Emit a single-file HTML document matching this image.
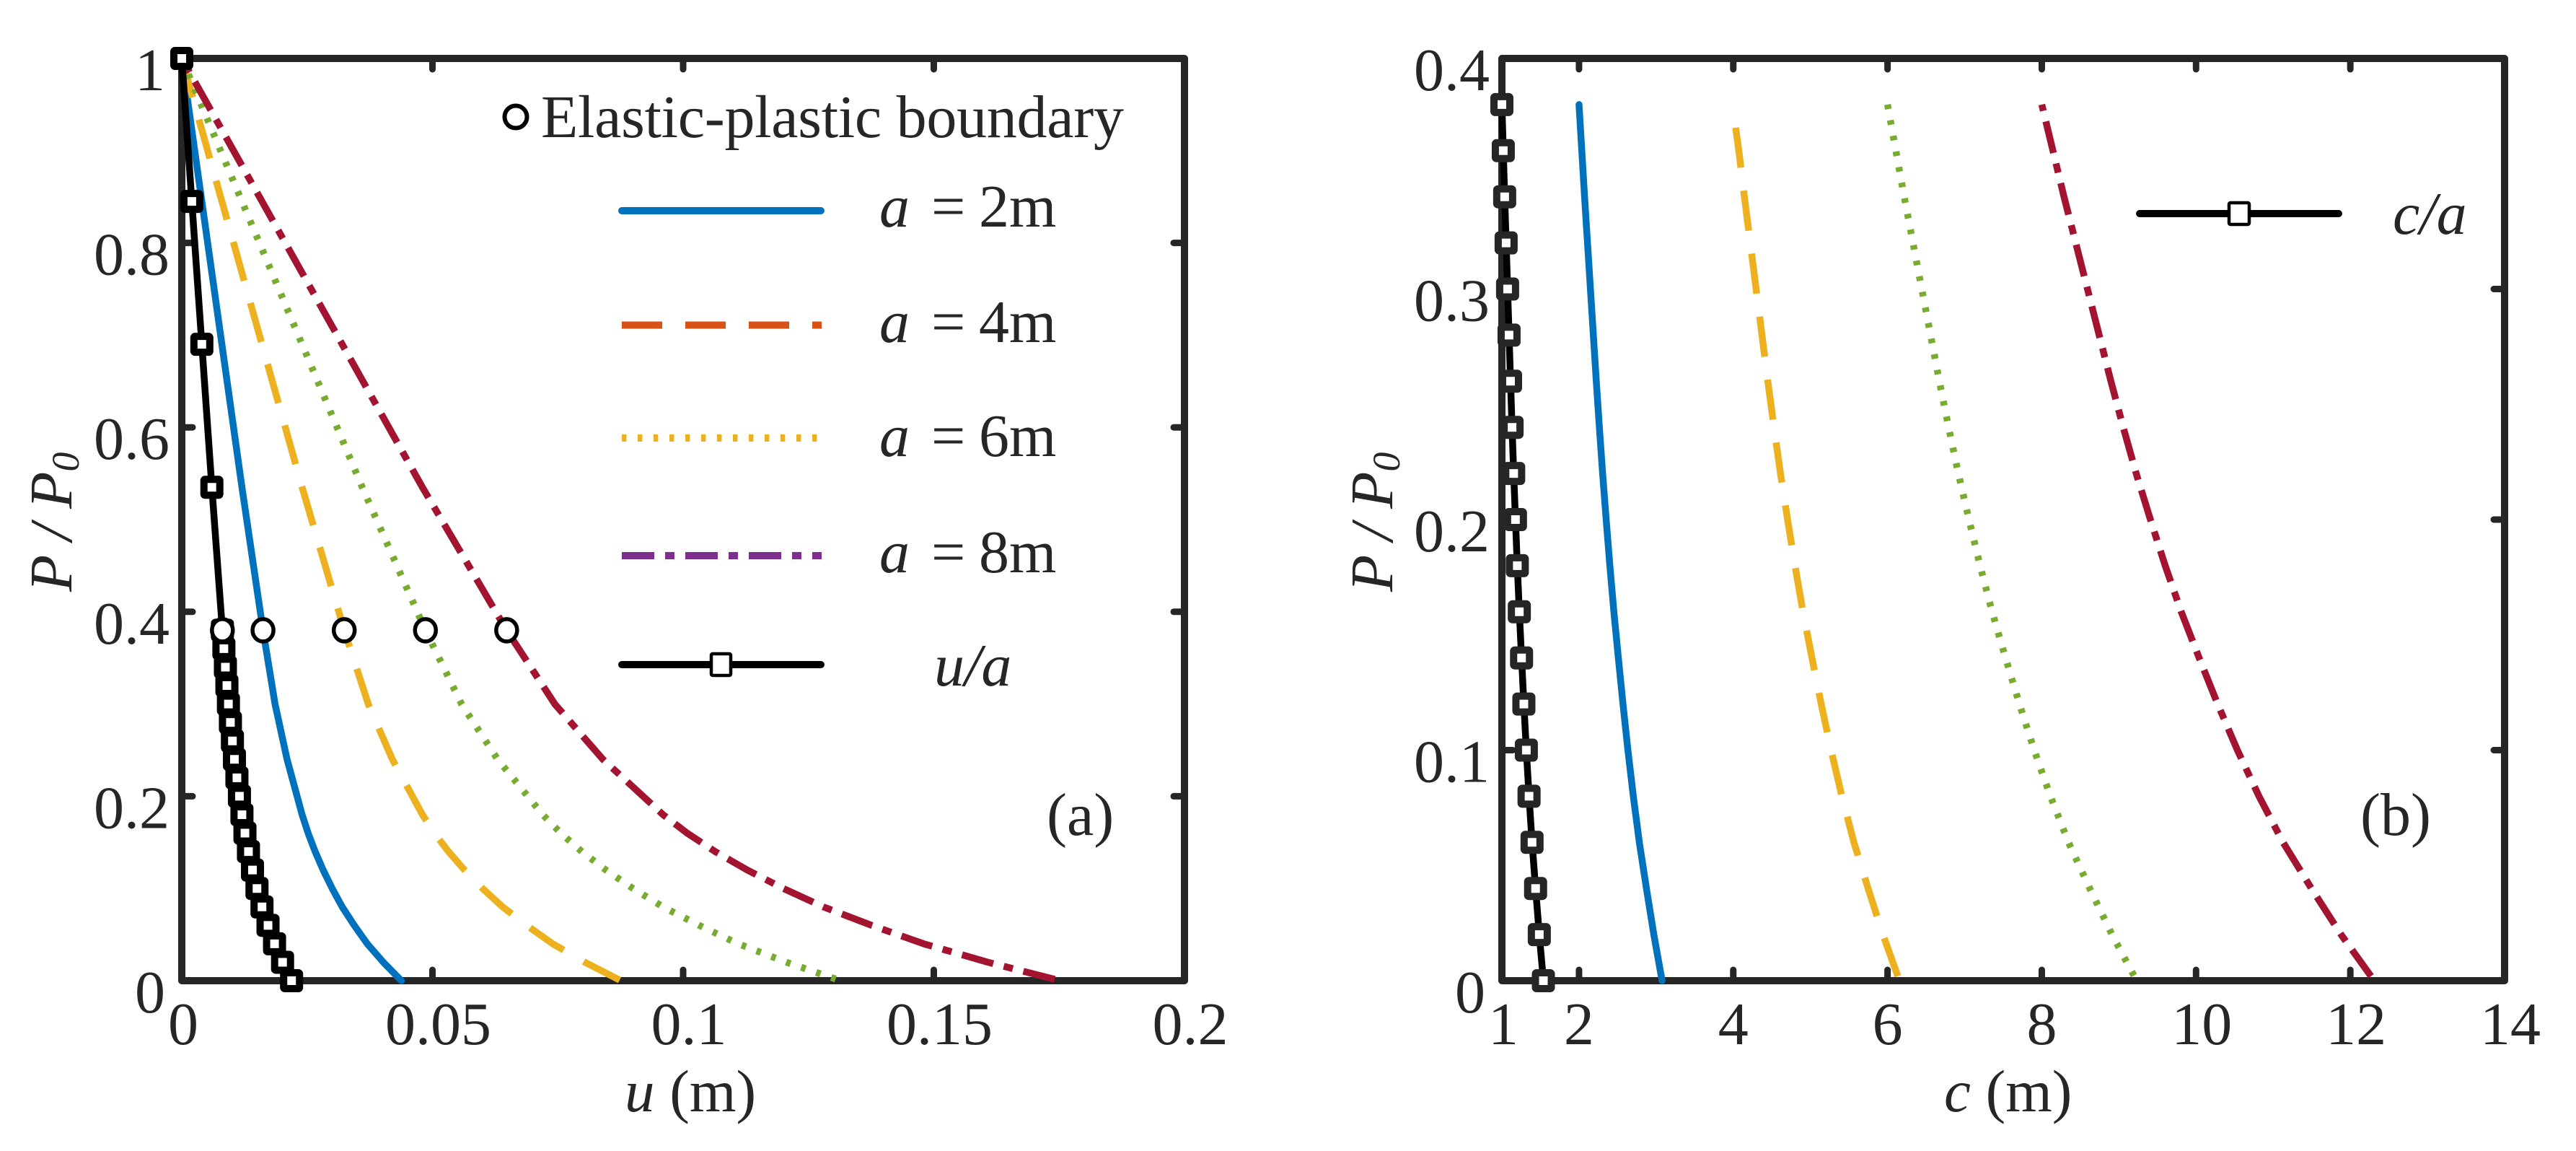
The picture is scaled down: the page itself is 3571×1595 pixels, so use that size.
<!DOCTYPE html>
<html lang="en">
<head>
<meta charset="utf-8">
<title>P/P0 versus u and c</title>
<style>
html,body{margin:0;padding:0;background:#fff;}
svg{display:block;}
text{font-family:"Liberation Serif","Times New Roman",serif;fill:#262626;font-size:84px;}
.it{font-style:italic;}
</style>
</head>
<body>
<svg id="chart" xmlns="http://www.w3.org/2000/svg" width="3571" height="1595" viewBox="0 0 3571 1595">
  <rect x="0" y="0" width="3571" height="1595" fill="#ffffff"/>
  <g id="panelA"></g>
  <g id="panelB"></g>

  <text transform="translate(99,820) rotate(-90)"><tspan class="it">P / P</tspan><tspan class="it" dy="10" style="font-size:54px">0</tspan></text>
  <text x="866" y="1540" style="font-size:83px"><tspan class="it">u</tspan> (m)</text>
  <text x="1451" y="1157">(a)</text>

  <text transform="translate(1930,820) rotate(-90)"><tspan class="it">P / P</tspan><tspan class="it" dy="10" style="font-size:54px">0</tspan></text>
  <text x="2695" y="1540" style="font-size:83px"><tspan class="it">c</tspan> (m)</text>
  <text x="3272" y="1157">(b)</text>

  <g>
    <g>
      <circle cx="715" cy="162" r="15.5" fill="#fff" stroke="#000" stroke-width="6"/>
      <text x="750" y="190" textLength="808" lengthAdjust="spacing">Elastic-plastic boundary</text>
    </g>
    <g>
      <line x1="862" y1="292" x2="1138" y2="292" stroke="#0072BD" stroke-width="10" stroke-linecap="round"/>
      <text y="314"><tspan class="it" x="1219">a</tspan><tspan x="1291">=</tspan><tspan x="1357">2m</tspan></text>
    </g>
    <g>
      <line x1="862" y1="450.5" x2="1139" y2="450.5" stroke="#D95319" stroke-width="10" stroke-dasharray="56 32"/>
      <text y="474"><tspan class="it" x="1219">a</tspan><tspan x="1291">=</tspan><tspan x="1357">4m</tspan></text>
    </g>
    <g>
      <line x1="862" y1="607" x2="1133" y2="607" stroke="#EDB120" stroke-width="10" stroke-dasharray="6.4 15.6"/>
      <text y="632"><tspan class="it" x="1219">a</tspan><tspan x="1291">=</tspan><tspan x="1357">6m</tspan></text>
    </g>
    <g>
      <line x1="862" y1="770" x2="1139" y2="770" stroke="#7E2F8E" stroke-width="10" stroke-dasharray="45 15 13 15"/>
      <text y="793"><tspan class="it" x="1219">a</tspan><tspan x="1291">=</tspan><tspan x="1357">8m</tspan></text>
    </g>
    <g>
      <line x1="862" y1="921" x2="1138" y2="921" stroke="#000" stroke-width="10" stroke-linecap="round"/>
      <rect x="986" y="906" width="27" height="30" rx="2" fill="#fff" stroke="#000" stroke-width="4.5"/>
      <text class="it" x="1295" y="950">u/a</text>
    </g>
  </g>

  <g>
    <g>
      <line x1="2966" y1="296" x2="3242" y2="296" stroke="#000" stroke-width="10" stroke-linecap="round"/>
      <rect x="3090" y="281" width="28" height="30" rx="2" fill="#fff" stroke="#000" stroke-width="4.5"/>
      <text class="it" x="3317" y="324">c/a</text>
    </g>
  </g>
</svg>
<script>
// ---- Panel (a) data ----
const xTicksA = [0, 0.05, 0.1, 0.15, 0.2];
const xTickLabelsA = ['0', '0.05', '0.1', '0.15', '0.2'];
const yTicksA = [0, 0.2, 0.4, 0.6, 0.8, 1];
const yTickLabelsA = ['0', '0.2', '0.4', '0.6', '0.8', '1'];
const pressureA = [1, 0.845, 0.69, 0.535, 0.38, 0.36, 0.34, 0.32, 0.30, 0.28, 0.26, 0.24, 0.22, 0.20, 0.18, 0.16, 0.14, 0.12, 0.10, 0.08, 0.06, 0.04, 0.02, 0];
const uOverA = [0, 0.0020, 0.0040, 0.0060, 0.0081, 0.0084, 0.0087, 0.0090, 0.0093, 0.0097, 0.0101, 0.0105, 0.0110, 0.0115, 0.0120, 0.0126, 0.0133, 0.0141, 0.0150, 0.0160, 0.0172, 0.0185, 0.0201, 0.0219];
const uA2 = [0, 0.0040, 0.0080, 0.0120, 0.0162, 0.0168, 0.0174, 0.0180, 0.0186, 0.0194, 0.0202, 0.0210, 0.0220, 0.0230, 0.0240, 0.0252, 0.0266, 0.0282, 0.0300, 0.0320, 0.0344, 0.0370, 0.0402, 0.0438];
const uA4 = [0, 0.008, 0.016, 0.024, 0.0324, 0.0336, 0.0348, 0.0360, 0.0372, 0.0388, 0.0404, 0.0420, 0.0440, 0.0460, 0.0480, 0.0504, 0.0532, 0.0564, 0.06, 0.064, 0.0688, 0.074, 0.0804, 0.0876];
const uA6 = [0, 0.012, 0.024, 0.036, 0.0486, 0.0504, 0.0522, 0.054, 0.0558, 0.0582, 0.0606, 0.063, 0.066, 0.069, 0.072, 0.0756, 0.0798, 0.0846, 0.09, 0.096, 0.1032, 0.111, 0.1206, 0.1314];
const uA8 = [0, 0.016, 0.032, 0.048, 0.0648, 0.0672, 0.0696, 0.072, 0.0744, 0.0776, 0.0808, 0.084, 0.088, 0.092, 0.096, 0.1008, 0.1064, 0.1128, 0.12, 0.128, 0.1376, 0.148, 0.1608, 0.1752];
const boundaryU = [0.0081, 0.0162, 0.0324, 0.0486, 0.0648];
const boundaryP = [0.38, 0.38, 0.38, 0.38, 0.38];

// ---- Panel (b) data ----
const xTicksB = [1, 2, 4, 6, 8, 10, 12, 14];
const xTickLabelsB = ['1', '2', '4', '6', '8', '10', '12', '14'];
const yTicksB = [0, 0.1, 0.2, 0.3, 0.4];
const yTickLabelsB = ['0', '0.1', '0.2', '0.3', '0.4'];
const pressureB = [0.38, 0.36, 0.34, 0.32, 0.30, 0.28, 0.26, 0.24, 0.22, 0.20, 0.18, 0.16, 0.14, 0.12, 0.10, 0.08, 0.06, 0.04, 0.02, 0];
const pressureB4 = [0.37, 0.36, 0.34, 0.32, 0.30, 0.28, 0.26, 0.24, 0.22, 0.20, 0.18, 0.16, 0.14, 0.12, 0.10, 0.08, 0.06, 0.04, 0.02, 0];
const cOverA = [1.00, 1.018, 1.036, 1.055, 1.074, 1.093, 1.112, 1.132, 1.153, 1.176, 1.200, 1.226, 1.255, 1.285, 1.317, 1.352, 1.391, 1.437, 1.485, 1.538];
const cA2 = [2.00, 2.036, 2.072, 2.11, 2.148, 2.186, 2.224, 2.264, 2.306, 2.352, 2.40, 2.452, 2.51, 2.57, 2.634, 2.704, 2.782, 2.874, 2.97, 3.077];
const cA4 = [4.03, 4.072, 4.144, 4.22, 4.296, 4.372, 4.448, 4.528, 4.612, 4.704, 4.80, 4.904, 5.02, 5.14, 5.268, 5.408, 5.564, 5.748, 5.94, 6.155];
const cA6 = [6, 6.108, 6.216, 6.33, 6.444, 6.558, 6.672, 6.792, 6.918, 7.056, 7.2, 7.356, 7.53, 7.71, 7.902, 8.112, 8.346, 8.622, 8.91, 9.23];
const cA8 = [8, 8.144, 8.288, 8.44, 8.592, 8.744, 8.896, 9.056, 9.224, 9.408, 9.6, 9.808, 10.04, 10.28, 10.536, 10.816, 11.128, 11.496, 11.88, 12.31];

const NS = 'http://www.w3.org/2000/svg';
const INK = '#262626';
const TOP = 81, BOTTOM = 1359;

function make(tag, attrs, parent) {
  const el = document.createElementNS(NS, tag);
  for (const k in attrs) el.setAttribute(k, attrs[k]);
  parent.appendChild(el);
  return el;
}

function linear(d0, d1, r0, r1) {
  return function (v) { return r0 + (v - d0) / (d1 - d0) * (r1 - r0); };
}

function pointsOf(xs, ys, sx, sy) {
  return xs.map(function (x, i) { return sx(x).toFixed(2) + ',' + sy(ys[i]).toFixed(2); }).join(' ');
}

function drawFrame(parent, left, right, sx, sy, xTicks, xLabels, yTicks, yLabels, key) {
  const frame = make('rect', { x: left, y: TOP, width: right - left, height: BOTTOM - TOP, fill: 'none', stroke: INK, 'stroke-width': 10, 'stroke-linejoin': 'round' }, parent);
  
  

  xTicks.forEach(function (v, i) {
    const x = sx(v);
    if (x > left + 1 && x < right - 1) {
      const t1 = make('line', { x1: x, y1: BOTTOM, x2: x, y2: BOTTOM - 15, stroke: INK, 'stroke-width': 9, 'stroke-linecap': 'round' }, parent);
      
      
      const t2 = make('line', { x1: x, y1: TOP, x2: x, y2: TOP + 15, stroke: INK, 'stroke-width': 9, 'stroke-linecap': 'round' }, parent);
      
      
    }
    const s = xLabels[i];
    const dx = s.length > 1 ? 8 : (i === 0 ? 2 : 0);
    const lab = make('text', { x: x + dx, y: 1447, 'text-anchor': 'middle' }, parent);
    
    
    lab.textContent = s;
  });

  yTicks.forEach(function (v, i) {
    const y = sy(v);
    if (y > TOP + 1 && y < BOTTOM - 1) {
      const t1 = make('line', { x1: left, y1: y, x2: left + 15, y2: y, stroke: INK, 'stroke-width': 9, 'stroke-linecap': 'round' }, parent);
      
      
      const t2 = make('line', { x1: right, y1: y, x2: right - 15, y2: y, stroke: INK, 'stroke-width': 9, 'stroke-linecap': 'round' }, parent);
      
      
    }
    const s = yLabels[i];
    const lab = make('text', { x: left - (s.length > 1 ? 17 : 23), y: y + 44, 'text-anchor': 'end' }, parent);
    
    
    lab.textContent = s;
  });
}

function drawCurve(parent, xs, ys, sx, sy, color, dash, offset, cap, name) {
  const attrs = { points: pointsOf(xs, ys, sx, sy), fill: 'none', stroke: color, 'stroke-width': 9.5, 'stroke-linejoin': 'round', 'stroke-linecap': cap };
  if (dash) { attrs['stroke-dasharray'] = dash; attrs['stroke-dashoffset'] = offset; }
  const el = make('polyline', attrs, parent);
  
  
}

function drawSquares(parent, xs, ys, sx, sy, color, name) {
  xs.forEach(function (x, i) {
    const el = make('rect', { x: sx(x) - 11, y: sy(ys[i]) - 11, width: 22, height: 22, rx: 1.5, fill: '#fff', stroke: color, 'stroke-width': 10, 'stroke-linejoin': 'round' }, parent);
    
    
  });
}

const DASHED = '56 32', DOTTED = '6.4 15.6', DASHDOT = '45 15 13 15';

// Panel (a)
(function () {
  const g = document.getElementById('panelA');
  const sx = linear(0, 0.2, 252, 1642);
  const sy = linear(0, 1, BOTTOM, TOP);
  drawFrame(g, 252, 1642, sx, sy, xTicksA, xTickLabelsA, yTicksA, yTickLabelsA, 'a');
  drawCurve(g, uA2, pressureA, sx, sy, '#0072BD', null, 0, 'round', 'curve-a2');
  drawCurve(g, uA4, pressureA, sx, sy, '#EDB120', DASHED, 0, 'butt', 'curve-a4');
  drawCurve(g, uA6, pressureA, sx, sy, '#77AC30', DOTTED, 20.2, 'butt', 'curve-a6');
  drawCurve(g, uA8, pressureA, sx, sy, '#A2142F', DASHDOT, 51, 'butt', 'curve-a8');
  drawCurve(g, uOverA, pressureA, sx, sy, '#000000', null, 0, 'round', 'curve-u-over-a');
  drawSquares(g, uOverA, pressureA, sx, sy, '#000000', 'marker-u-over-a');
  boundaryU.forEach(function (u, i) {
    const c = make('ellipse', { cx: sx(u), cy: sy(boundaryP[i]), rx: 14.5, ry: 15.5, fill: '#fff', stroke: '#000', 'stroke-width': 5.5 }, g);
    
    
  });
})();

// Panel (b)
(function () {
  const g = document.getElementById('panelB');
  const sx = linear(1, 14, 2082, 3472);
  const sy = linear(0, 0.4, BOTTOM, TOP);
  drawFrame(g, 2082, 3472, sx, sy, xTicksB, xTickLabelsB, yTicksB, yTickLabelsB, 'b');
  drawCurve(g, cA2, pressureB, sx, sy, '#0072BD', null, 0, 'round', 'curve-c-a2');
  drawCurve(g, cA4, pressureB4, sx, sy, '#EDB120', DASHED, 0, 'butt', 'curve-c-a4');
  drawCurve(g, cA6, pressureB, sx, sy, '#77AC30', DOTTED, 0, 'butt', 'curve-c-a6');
  drawCurve(g, cA8, pressureB, sx, sy, '#A2142F', DASHDOT, 64, 'butt', 'curve-c-a8');
  drawCurve(g, cOverA, pressureB, sx, sy, '#000000', null, 0, 'round', 'curve-c-over-a');
  drawSquares(g, cOverA, pressureB, sx, sy, INK, 'marker-c-over-a');
})();
</script>
</body>
</html>
